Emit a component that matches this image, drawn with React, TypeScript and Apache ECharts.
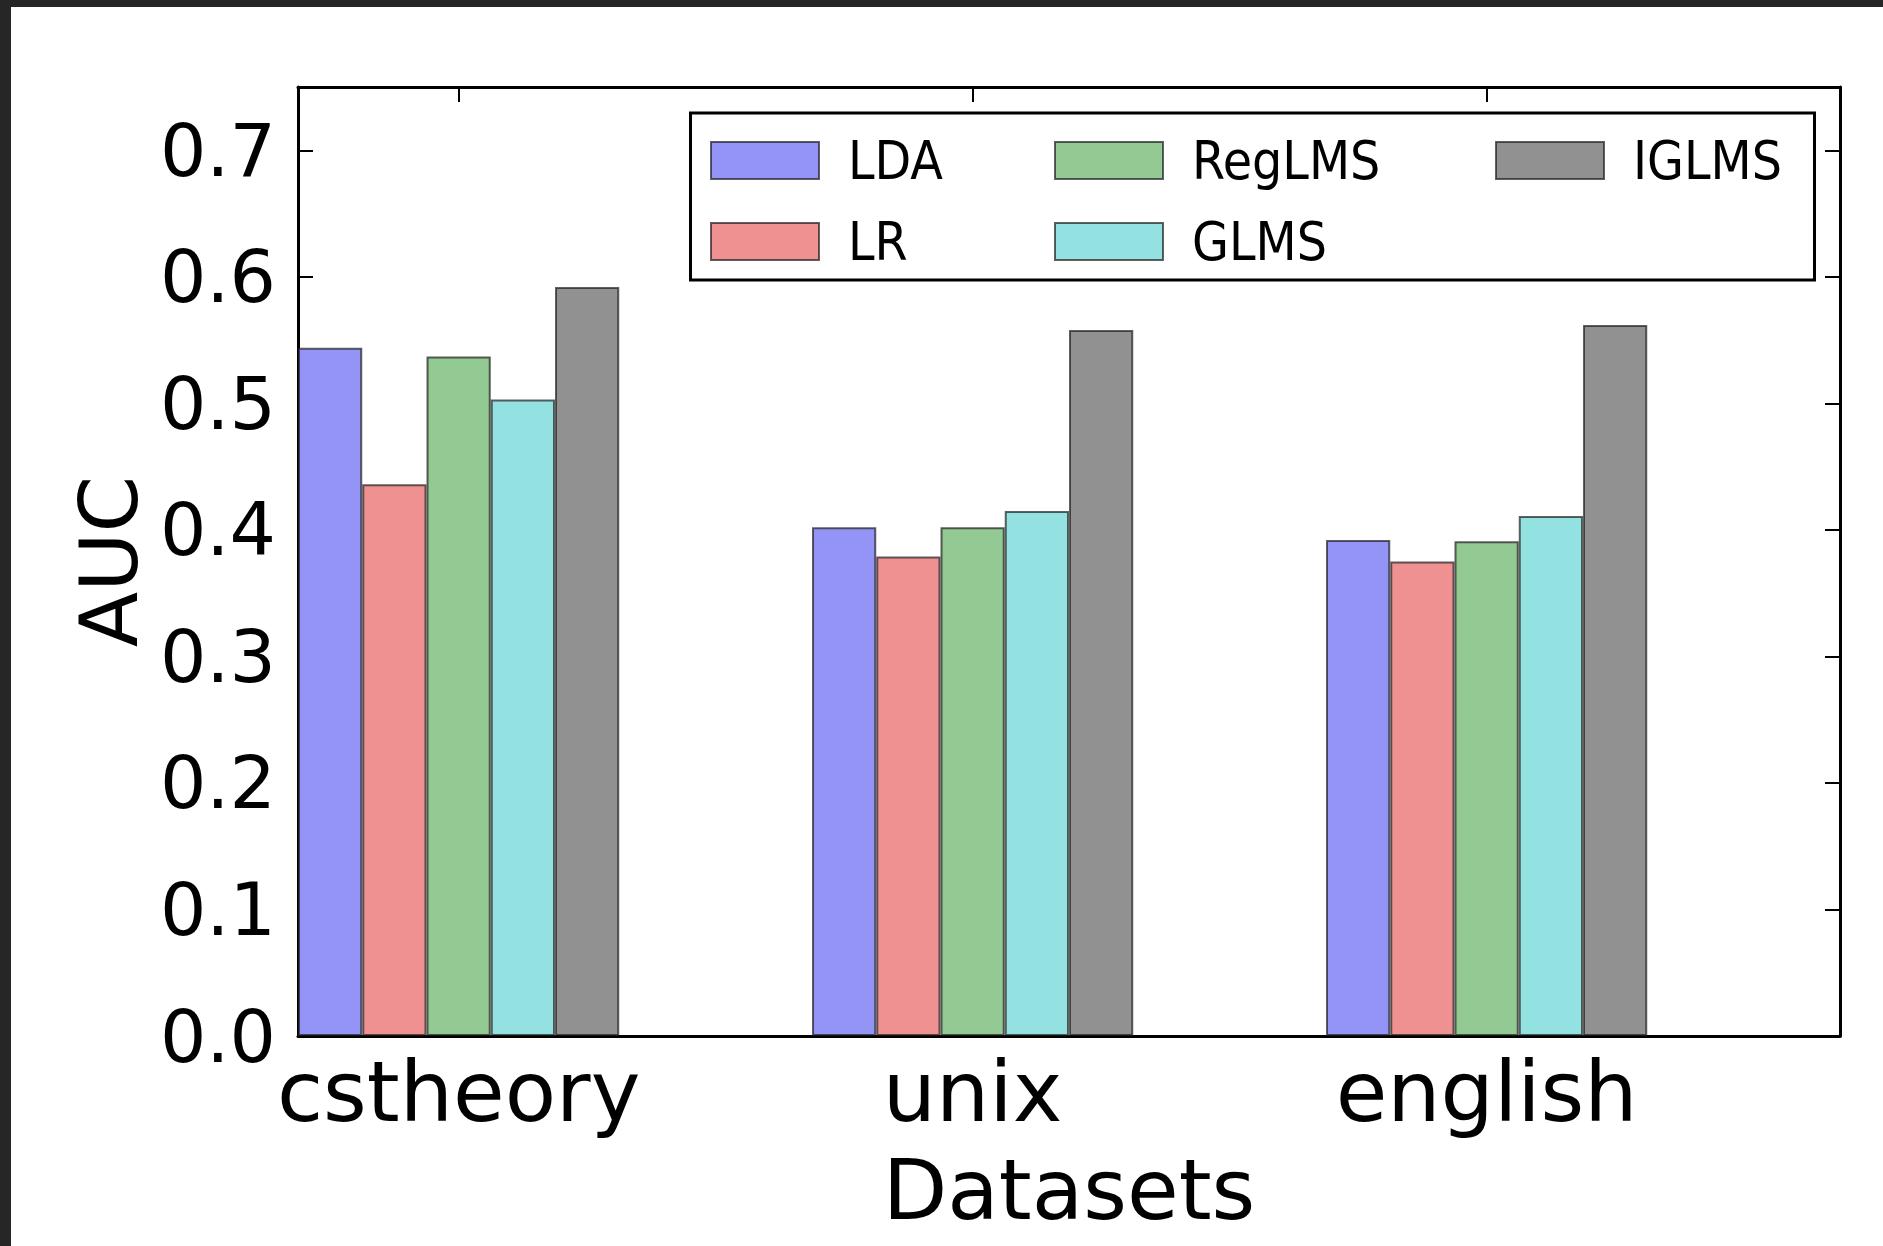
import React, { useEffect, useRef } from "react";
import * as echarts from "echarts";

const datasets = ["cstheory", "unix", "english"];
const methods = ["LDA", "LR", "RegLMS", "GLMS", "IGLMS"];
const ldaValues = [0.544, 0.402, 0.392];
const lrValues = [0.436, 0.379, 0.375];
const regLmsValues = [0.537, 0.402, 0.391];
const glmsValues = [0.503, 0.415, 0.411];
const iglmsValues = [0.592, 0.558, 0.562];
const yTickValues = [0, 0.1, 0.2, 0.3, 0.4, 0.5, 0.6, 0.7];

const seriesValues = [ldaValues, lrValues, regLmsValues, glmsValues, iglmsValues];
const colors = ["#9494f7", "#ef9191", "#93c993", "#93e1e1", "#919191"];
const BAR = 0.125;
const FONT = "DejaVu Sans";

const legendCols = [
  { name: "LDA", left: 710, top: 134 },
  { name: "LR", left: 710, top: 215 },
  { name: "RegLMS", left: 1054, top: 134 },
  { name: "GLMS", left: 1054, top: 215 },
  { name: "IGLMS", left: 1495, top: 134 },
];

export default function App() {
  const ref = useRef<HTMLDivElement>(null);
  useEffect(() => {
    if (!ref.current) return;
    const chart = echarts.init(ref.current, null, { renderer: "svg" });
    const groupCenter = 2.5 * BAR;
    const xTickValues = datasets.map((_, i) => i + groupCenter);
    const axisLine = { show: true, onZero: false, lineStyle: { color: "#000", width: 3 } };
    const tickStyle = { color: "#000", width: 2 };
    const option: any = {
      animation: false,
      backgroundColor: "#fff",
      grid: { left: 298, top: 87, width: 1542, height: 949, containLabel: false },
      xAxis: [
        {
          type: "value",
          min: 0,
          max: 3,
          position: "bottom",
          axisLine,
          splitLine: { show: false },
          axisTick: { show: true, inside: true, length: 15, lineStyle: tickStyle, customValues: xTickValues },
          axisLabel: {
            show: true,
            customValues: xTickValues,
            formatter: (v: number) => datasets[Math.round(v - groupCenter)] ?? "",
            fontFamily: FONT,
            fontSize: 84,
            color: "#000",
            margin: 14,
          },
          name: "Datasets",
          nameLocation: "middle",
          nameGap: 112,
          nameTextStyle: { fontFamily: FONT, fontSize: 84, color: "#000" },
        },
        {
          type: "value",
          min: 0,
          max: 3,
          position: "top",
          axisLine,
          splitLine: { show: false },
          axisTick: { show: true, inside: true, length: 15, lineStyle: tickStyle, customValues: xTickValues },
          axisLabel: { show: false },
        },
      ],
      yAxis: [
        {
          type: "value",
          min: 0,
          max: 0.75,
          position: "left",
          axisLine,
          splitLine: { show: false },
          axisTick: { show: true, inside: true, length: 15, lineStyle: tickStyle, customValues: yTickValues },
          axisLabel: {
            show: true,
            customValues: yTickValues,
            formatter: (v: number) => v.toFixed(1),
            fontFamily: FONT,
            fontSize: 73,
            color: "#000",
            margin: 22,
          },
          name: "AUC",
          nameLocation: "middle",
          nameRotate: 90,
          nameGap: 148,
          nameTextStyle: { fontFamily: FONT, fontSize: 81, color: "#000" },
        },
        {
          type: "value",
          min: 0,
          max: 0.75,
          position: "right",
          axisLine,
          splitLine: { show: false },
          axisTick: { show: true, inside: true, length: 15, lineStyle: tickStyle, customValues: yTickValues },
          axisLabel: { show: false },
        },
      ],
      legend: legendCols.map((l) => ({
        data: [l.name],
        left: l.left,
        top: l.top,
        padding: 0,
        itemWidth: 108,
        itemHeight: 37,
        icon: "rect",
        selectedMode: false,
        textStyle: {
          fontFamily: "DejaVu Sans Condensed",
          fontSize: 53,
          lineHeight: 53,
          color: "#000",
          padding: [0, 0, 0, 24],
        },
      })),
      series: methods.map((m, k) => ({
        type: "bar",
        name: m,
        xAxisIndex: 0,
        yAxisIndex: 0,
        barWidth: 64.25,
        barGap: "-100%",
        itemStyle: { color: colors[k], borderColor: "rgba(30,30,30,0.7)", borderWidth: 2 },
        data: seriesValues[k].map((v, i) => [i + (k + 0.5) * BAR, v]),
      })),
      graphic: [
        { type: "rect", shape: { x: 0, y: 0, width: 1883, height: 7 }, style: { fill: "#262626" }, z: 100 },
        { type: "rect", shape: { x: 0, y: 0, width: 11, height: 1246 }, style: { fill: "#262626" }, z: 100 },
        {
          type: "rect",
          shape: { x: 690.5, y: 113, width: 1124, height: 167 },
          style: { fill: "none", stroke: "#000", lineWidth: 3 },
          z: 100,
        },
      ],
    };
    chart.setOption(option);
    return () => chart.dispose();
  }, []);
  return (
    <div
      ref={ref}
      style={{ position: "absolute", left: 0, top: 0, width: 1883, height: 1246, background: "#fff" }}
    />
  );
}
